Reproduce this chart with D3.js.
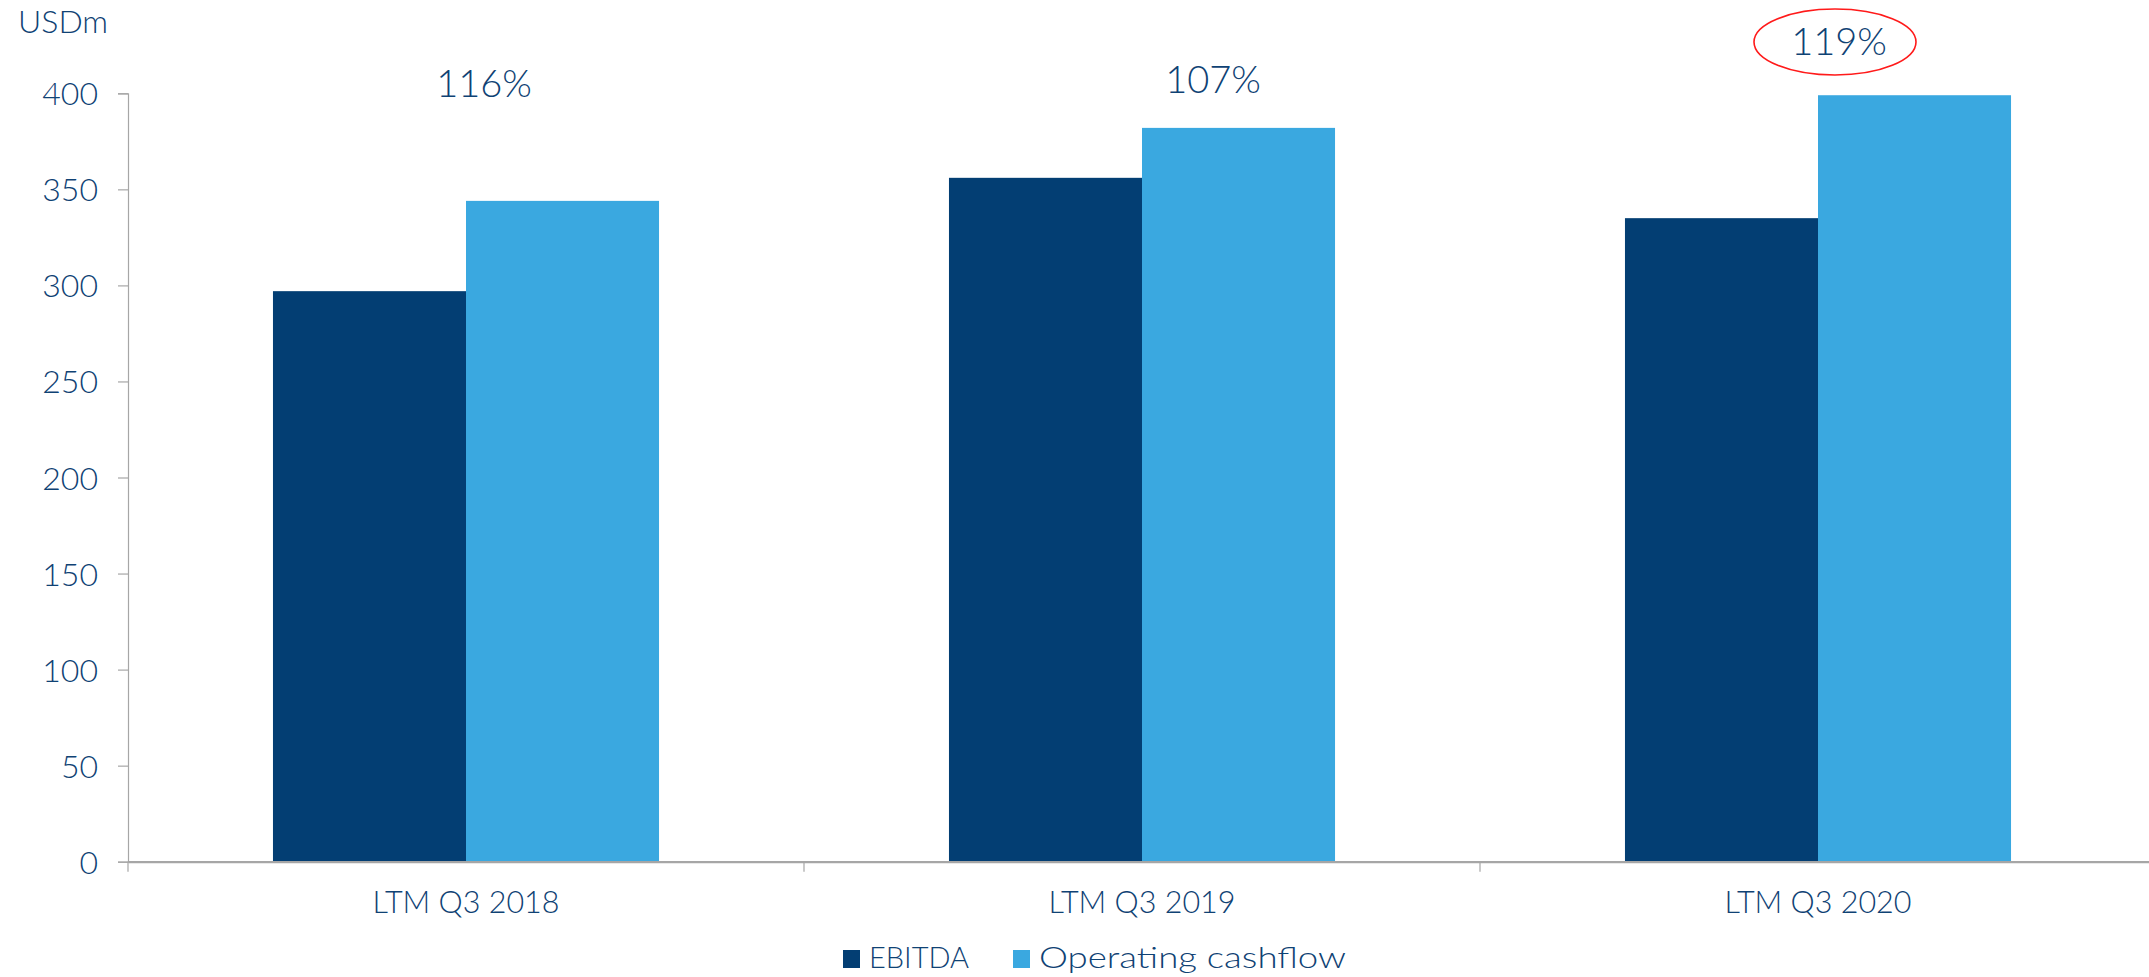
<!DOCTYPE html>
<html>
<head>
<meta charset="utf-8">
<script src="https://cdn.jsdelivr.net/npm/d3@7"></script>
<style>
  html, body { margin: 0; padding: 0; background: #fff; }
  svg { display: block; }
  text { font-family: Lato, "Open Sans", sans-serif; font-weight: 300; fill: #0f4274; }
</style>
</head>
<body>
<svg id="chart" width="2149" height="977"></svg>
<script>
// ---- data ----
const categories = ["LTM Q3 2018", "LTM Q3 2019", "LTM Q3 2020"];
const seriesNames = ["EBITDA", "Operating cashflow"];
const ebitda = [297, 356, 335];
const operatingCashflow = [344, 382, 399];
const conversionLabels = ["116%", "107%", "119%"];
const highlighted = [false, false, true];
const yTicks = [0, 50, 100, 150, 200, 250, 300, 350, 400];
const unitLabel = "USDm";

// ---- layout ----
const W = 2149, H = 977;
const axisX = 128, y0 = 861.7, yTop = 93.3, bandW = 676;
const colors = { "EBITDA": "#033e73", "Operating cashflow": "#3aa8e0" };
const axisColor = "#a6a6a6";
const labelNudge = [18, 71, 21];
const labelBaseline = [97, 93, 55];

const svg = d3.select("#chart");

const y = d3.scaleLinear().domain([0, 400]).range([y0, yTop]);
const x0 = d3.scaleBand().domain(categories).range([axisX, axisX + bandW * categories.length]).padding(0);
const x1 = d3.scaleBand().domain(seriesNames).range([0, x0.bandwidth()]).paddingInner(0).paddingOuter(0.751);

const rows = categories.map((c, i) => ({
  cat: c,
  values: [
    { key: "EBITDA", value: ebitda[i] },
    { key: "Operating cashflow", value: operatingCashflow[i] }
  ]
}));

// bars
const g = svg.append("g");
g.selectAll("g.cat").data(rows).join("g")
  .attr("transform", d => `translate(${x0(d.cat)},0)`)
  .selectAll("rect").data(d => d.values).join("rect")
  .attr("x", d => x1(d.key))
  .attr("width", x1.bandwidth())
  .attr("y", d => y(d.value))
  .attr("height", d => y(0) - y(d.value))
  .attr("fill", d => colors[d.key]);

// y axis
const yAxis = d3.axisLeft(y).tickValues(yTicks).tickSize(10).tickPadding(20).tickFormat(d3.format("d"));
const yg = svg.append("g").attr("transform", `translate(${axisX},0)`).call(yAxis);
yg.select(".domain").attr("stroke", axisColor).attr("stroke-width", 1.2);
yg.selectAll(".tick line").attr("stroke", axisColor).attr("stroke-width", 1.2);
yg.selectAll(".tick text").attr("font-size", 32).attr("font-family", "Lato").attr("font-weight", 300).attr("fill", "#0f4274").attr("dy", "0.36em");

// x axis
const xAxis = d3.axisBottom(x0).tickSize(0).tickPadding(0).tickFormat("");
const xg = svg.append("g").attr("transform", `translate(0,${y0})`).call(xAxis);
xg.select(".domain").attr("stroke", axisColor).attr("stroke-width", 2.2);
// category separator ticks
xg.selectAll("line.sep").data(categories).join("line").attr("class", "sep")
  .attr("x1", d => x0(d)).attr("x2", d => x0(d))
  .attr("y1", 0).attr("y2", 10)
  .attr("stroke", axisColor).attr("stroke-width", 1.2);
// category labels
svg.append("g").selectAll("text").data(categories).join("text")
  .attr("x", d => x0(d) + x0.bandwidth() / 2)
  .attr("y", 913)
  .attr("text-anchor", "middle")
  .attr("font-size", 30.5)
  .text(d => d);

// unit label
svg.append("text").attr("x", 18).attr("y", 33).attr("font-size", 32).text(unitLabel);

// conversion labels
const lab = svg.append("g");
categories.forEach((c, i) => {
  const cx = x0(c) + x0.bandwidth() / 2 + labelNudge[i];
  lab.append("text")
    .attr("x", cx).attr("y", labelBaseline[i])
    .attr("text-anchor", "middle")
    .attr("font-size", 38)
    .text(conversionLabels[i]);
  if (highlighted[i]) {
    lab.append("ellipse")
      .attr("cx", cx - 4).attr("cy", labelBaseline[i] - 13)
      .attr("rx", 81).attr("ry", 33)
      .attr("fill", "none").attr("stroke", "#ff1a1a").attr("stroke-width", 1.6);
  }
});

// legend
const legendItems = [
  { key: "EBITDA", x: 843, len: 100 },
  { key: "Operating cashflow", x: 1013, len: 307 }
];
const lg = svg.append("g");
lg.selectAll("rect").data(legendItems).join("rect")
  .attr("x", d => d.x).attr("y", 950).attr("width", 17).attr("height", 18)
  .attr("fill", d => colors[d.key]);
lg.selectAll("text").data(legendItems).join("text")
  .attr("x", d => d.x + 26).attr("y", 968)
  .attr("font-size", 30)
  .attr("textLength", d => d.len)
  .attr("lengthAdjust", "spacingAndGlyphs")
  .text(d => d.key);
</script>
</body>
</html>
